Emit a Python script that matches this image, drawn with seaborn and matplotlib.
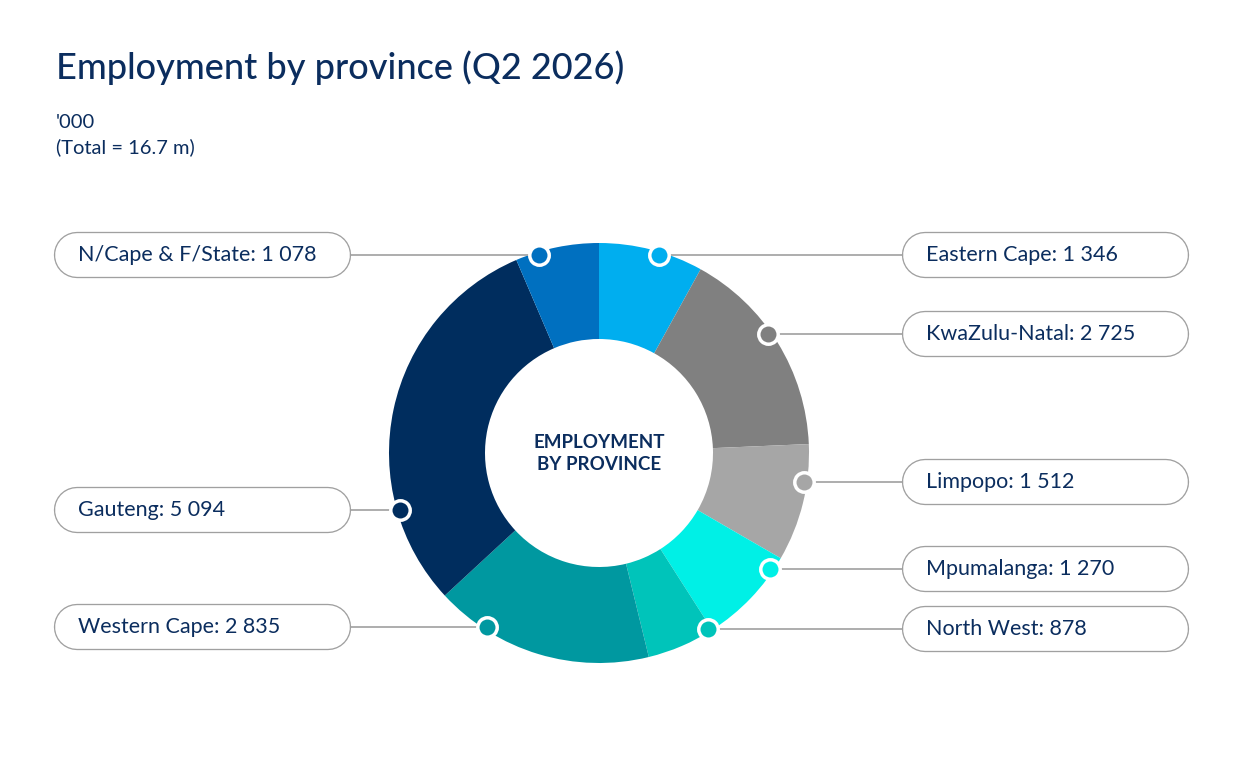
import numpy as np
import matplotlib
matplotlib.use("Agg")
import matplotlib.pyplot as plt
import seaborn as sns

# data ('000), clockwise from 12 o'clock
provinces = ["Eastern Cape", "KwaZulu-Natal", "Limpopo", "Mpumalanga",
             "North West", "Western Cape", "Gauteng", "N/Cape & F/State"]
employed = [1346, 2725, 1512, 1270, 878, 2835, 5094, 1078]
labels = ["1 346", "2 725", "1 512", "1 270", "878", "2 835", "5 094", "1 078"]
colors = ["#00AEEF", "#808080", "#A6A6A6", "#00F0E6",
          "#00C4BA", "#0098A0", "#002D5E", "#0070C0"]

# label box layout (pixel rows from top, side)
label_rows = [255, 334, 482, 569, 629, 627, 510, 255]
label_side = ["R", "R", "R", "R", "R", "L", "L", "L"]

sns.set_style("white")
plt.rcParams["font.family"] = ["Lato", "DejaVu Sans"]
navy = "#0B2D5E"
grey = "#A0A0A0"

W, H = 1250, 781
fig = plt.figure(figsize=(12.5, 7.81), dpi=100)
ax = fig.add_axes([0, 0, 1, 1])

cx, cy = 599, H - 453
R, r_in = 210, 114

ax.pie(employed, colors=colors, startangle=90, counterclock=False,
       center=(cx, cy), radius=R,
       wedgeprops=dict(width=R - r_in, linewidth=0))
ax.set_xlim(0, W)
ax.set_ylim(0, H)
ax.set_aspect("equal")
ax.axis("off")

ax.text(cx, cy + 11, "EMPLOYMENT", ha="center", va="center",
        fontsize=13.5, fontweight="bold", color=navy)
ax.text(cx, cy - 12, "BY PROVINCE", ha="center", va="center",
        fontsize=13.5, fontweight="bold", color=navy)

# label pills, leader lines and dots
px = 72 / 100  # points per pixel
bh = 45
r_dot = 207
for name, lab, col, row, side in zip(provinces, labels, colors, label_rows, label_side):
    y = H - row
    dx = np.sqrt(max(r_dot ** 2 - (y - cy) ** 2, 0))
    if side == "R":
        x_dot = cx + dx
        bx0, bx1 = 902, 1188
        ax.plot([x_dot, bx0], [y, y], color=grey, lw=1.2, zorder=2)
        tx = 926
    else:
        x_dot = cx - dx
        bx0, bx1 = 54, 350
        ax.plot([bx1, x_dot], [y, y], color=grey, lw=1.2, zorder=2)
        tx = 78
    ends = [bx0 + bh / 2, bx1 - bh / 2]
    ax.plot(ends, [y, y], color=grey, lw=(bh + 1.3) * px,
            solid_capstyle="round", zorder=3)
    ax.plot(ends, [y, y], color="white", lw=(bh - 1.3) * px,
            solid_capstyle="round", zorder=3)
    ax.text(tx, y, f"{name}: {lab}", ha="left", va="center",
            fontsize=15.5, color=navy, zorder=4)
    ax.plot(x_dot, y, "o", ms=14, mfc=col, mec="white", mew=2.5, zorder=5)

fig.text(56 / W, 1 - 68 / H, "Employment by province (Q2 2026)",
         fontsize=26, color=navy, fontweight="medium", va="center", ha="left")
fig.text(56 / W, 1 - 123 / H, "'000", fontsize=14.5, color=navy, va="center")
fig.text(56 / W, 1 - 147 / H, "(Total = 16.7 m)", fontsize=14.5, color=navy, va="center")

fig.savefig("out.png", dpi=100, facecolor="white")
